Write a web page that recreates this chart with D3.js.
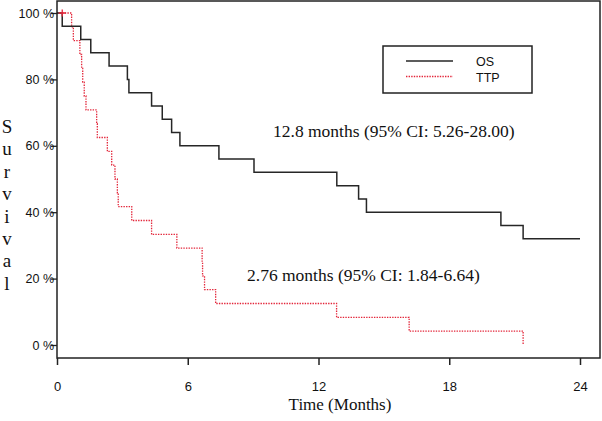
<!DOCTYPE html>
<html>
<head>
<meta charset="utf-8">
<script src="https://cdn.jsdelivr.net/npm/d3@7"></script>
<style>
  html, body { margin: 0; padding: 0; background: #fff; }
  svg { display: block; }
</style>
</head>
<body>
<svg id="chart" width="602" height="421"></svg>
<script>
// ---- data ----
const osTime  = [0, 0.24, 1.09, 1.55, 2.39, 3.23, 3.30, 4.34, 4.83, 5.26, 5.64, 7.43, 9.04, 12.84, 13.84, 14.2, 20.37, 21.39, 24];
const osSurv  = [100, 96, 92, 88, 84, 80, 76, 72, 68, 64, 60, 56, 52, 48, 44, 40, 36, 32, 32];
const ttpTime = [0, 0.67, 0.75, 1.05, 1.13, 1.18, 1.25, 1.33, 1.82, 1.85, 2.31, 2.51, 2.66, 2.77, 2.81, 3.43, 4.34, 5.5, 6.66, 6.68, 6.77, 7.28, 12.83, 16.16, 21.39];
const ttpSurv = [100, 95.8, 91.7, 87.5, 83.3, 79.2, 75, 70.8, 66.7, 62.5, 58.3, 54.2, 50, 45.8, 41.7, 37.5, 33.3, 29.2, 25, 20.8, 16.7, 12.5, 8.3, 4.2, 0];
const ttpCensorTime = [0.24];
const ttpCensorSurv = [100];
const xTicks = [0, 6, 12, 18, 24];
const yTicks = [0, 20, 40, 60, 80, 100];
const seriesNames = ["OS", "TTP"];
const annotations = ["12.8 months (95% CI: 5.26-28.00)", "2.76 months (95% CI: 1.84-6.64)"];
const xTitle = "Time (Months)";
const yTitle = "Survival";

// ---- layout ----
const svg = d3.select("#chart");
const x = d3.scaleLinear().domain([0, 24]).range([57, 580]);
const y = d3.scaleLinear().domain([0, 100]).range([345, 13]);
const frame = {left: 57, top: 1, right: 600, bottom: 358};
const sans = "'Liberation Sans', Arial, sans-serif";
const serif = "'Liberation Serif', 'Times New Roman', serif";

// curves
const line = d3.line().curve(d3.curveStepAfter).x(d => x(d[0])).y(d => y(d[1]));
const osPts = osTime.map((t, i) => [t, osSurv[i]]);
const ttpPts = ttpTime.map((t, i) => [t, ttpSurv[i]]);

svg.append("path").attr("d", line(ttpPts))
  .attr("fill", "none").attr("stroke", "#e3263a").attr("stroke-width", 1.3)
  .attr("stroke-dasharray", "1.4,1.2");
svg.append("path").attr("d", line(osPts))
  .attr("fill", "none").attr("stroke", "#262626").attr("stroke-width", 1.5);

// censor marks
ttpCensorTime.forEach((t, i) => {
  const cx = x(t), cy = y(ttpCensorSurv[i]);
  svg.append("path").attr("d", `M${cx-3.5},${cy}H${cx+3.5}M${cx},${cy-3.5}V${cy+3.5}`)
    .attr("stroke", "#e3263a").attr("stroke-width", 1.3);
});

// frame
svg.append("rect")
  .attr("x", frame.left).attr("y", frame.top)
  .attr("width", frame.right - frame.left).attr("height", frame.bottom - frame.top)
  .attr("fill", "none").attr("stroke", "#222").attr("stroke-width", 1.5);

// x axis
const xAxis = svg.append("g").attr("transform", `translate(0,${frame.bottom})`)
  .call(d3.axisBottom(x).tickValues(xTicks).tickFormat(d3.format("d")).tickSize(7).tickSizeOuter(0).tickPadding(17));
xAxis.select(".domain").remove();
xAxis.selectAll("line").attr("stroke", "#222").attr("stroke-width", 1.5);
xAxis.selectAll("text").attr("font-family", sans).attr("font-size", 13).attr("fill", "#111");

// y axis
const yAxis = svg.append("g").attr("transform", `translate(${frame.left},0)`)
  .call(d3.axisLeft(y).tickValues(yTicks).tickFormat(d => d + " %").tickSize(6).tickSizeOuter(0).tickPadding(-3));
yAxis.select(".domain").remove();
yAxis.selectAll("line").attr("stroke", "#222").attr("stroke-width", 1.3);
yAxis.selectAll("text").attr("font-family", sans).attr("font-size", 12.5).attr("fill", "#111");

// axis titles
svg.append("text").attr("x", 340).attr("y", 410).attr("text-anchor", "middle")
  .attr("font-family", serif).attr("font-size", 17).attr("fill", "#111").text(xTitle);
yTitle.split("").forEach((ch, i) => {
  svg.append("text").attr("x", 7).attr("y", 133 + i * 22.4).attr("text-anchor", "middle")
    .attr("font-family", serif).attr("font-size", 19).attr("fill", "#111").text(ch);
});

// annotations
svg.append("text").attr("x", 273).attr("y", 137).attr("font-family", serif)
  .attr("font-size", 17.5).attr("fill", "#111").text(annotations[0]);
svg.append("text").attr("x", 247).attr("y", 281).attr("font-family", serif)
  .attr("font-size", 17.5).attr("fill", "#111").text(annotations[1]);

// legend
const lg = svg.append("g");
lg.append("rect").attr("x", 383).attr("y", 46).attr("width", 149).attr("height", 47)
  .attr("fill", "#fff").attr("stroke", "#222").attr("stroke-width", 1.5);
lg.append("line").attr("x1", 406).attr("x2", 453).attr("y1", 61).attr("y2", 61)
  .attr("stroke", "#262626").attr("stroke-width", 1.5);
lg.append("line").attr("x1", 406).attr("x2", 453).attr("y1", 76.5).attr("y2", 76.5)
  .attr("stroke", "#e3263a").attr("stroke-width", 1.3).attr("stroke-dasharray", "1.4,1.2");
seriesNames.forEach((n, i) => {
  lg.append("text").attr("x", 476).attr("y", 62 + i * 15.5).attr("dy", "0.35em")
    .attr("font-family", sans).attr("font-size", 12.5).attr("fill", "#111").text(n);
});
</script>
</body>
</html>
